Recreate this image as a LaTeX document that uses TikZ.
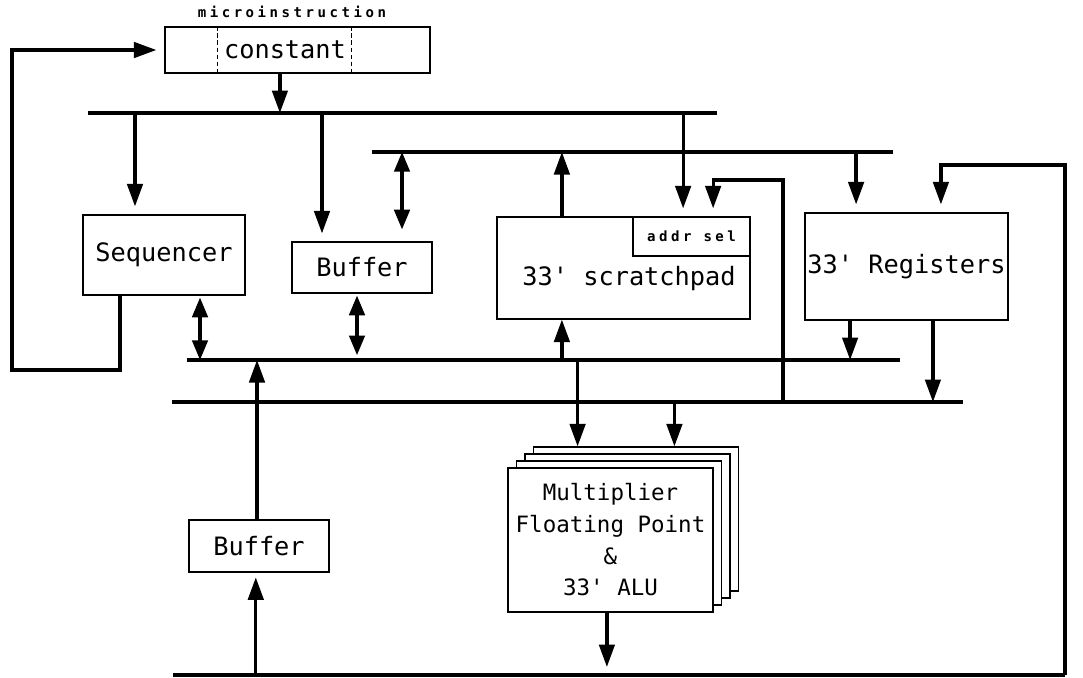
\documentclass[tikz,border=0pt]{standalone}
\usepackage{fontspec}
\setmonofont{DejaVu Sans Mono}
\newfontfamily\tagfont[LetterSpace=25]{DejaVu Sans Mono Bold}
\usetikzlibrary{arrows.meta,positioning}
\begin{document}
\begin{tikzpicture}[x=0.025cm, y=-0.025cm, font=\ttfamily\fontsize{18}{22}\selectfont, box/.style={draw, line width=0.8pt, inner sep=0pt, align=center}, bus/.style={line width=3pt}, arr/.style={line width=2.3pt, -{Triangle[length=16pt,width=11pt]}}, darr/.style={line width=2.3pt, {Triangle[length=14pt,width=11pt]}-{Triangle[length=14pt,width=11pt]}}, gap/.style={shorten >=0.2cm}, tag/.style={font=\tagfont\fontsize{10}{12}\selectfont}]
\useasboundingbox (0,0) rectangle (1083,677);
\node[box, minimum width=6.625cm, minimum height=1.15cm] (micro) at (297.5,50) {};
\node (const) at (285,50) {constant};
\node[tag, above=0.1cm of micro, xshift=-0.14cm] (mlabel) {microinstruction};
\node[box, minimum width=4.05cm, minimum height=2cm] (seq) at (164,255) {Sequencer};
\node[box, minimum width=3.5cm, minimum height=1.275cm] (buf1) at (362,267.5) {Buffer};
\node[box, minimum width=6.325cm, minimum height=2.55cm] (spad) at (623.5,268) {};
\node[box, tag, anchor=north east, minimum width=2.925cm, minimum height=0.975cm] (addr) at (spad.north east) {addr sel};
\node (spadtxt) at (629,279) {33' scratchpad};
\node[box, minimum width=5.075cm, minimum height=2.675cm] (reg) at (906.5,266.5) {33' Registers};
\node[box, minimum width=3.5cm, minimum height=1.3cm] (buf2) at (259,546) {Buffer};
\node[box, fill=white, minimum width=5.125cm, minimum height=3.6cm] (mult3) at (636,519) {};
\node[box, fill=white, minimum width=5.125cm, minimum height=3.6cm] (mult2) at (627.5,526) {};
\node[box, fill=white, minimum width=5.125cm, minimum height=3.6cm] (mult1) at (619,533) {};
\node[box, fill=white, minimum width=5.125cm, minimum height=3.6cm, font=\ttfamily\fontsize{16}{22.5}\selectfont] (mult) at (610.5,540) {Multiplier\\Floating Point\\\&\\33' ALU};
\draw[densely dashed, line width=0.6pt] ([xshift=-1.99cm]micro.north) -- ([xshift=-1.99cm]micro.south); \draw[densely dashed, line width=0.6pt] ([xshift=1.36cm]micro.north) -- ([xshift=1.36cm]micro.south);
\coordinate (b1w) at (88,113); \coordinate (b1e) at (717,113);
\coordinate (b2w) at (372,152); \coordinate (b2e) at (893,152);
\coordinate (b3w) at (187,360); \coordinate (b3e) at (900,360);
\coordinate (b4w) at (172,402); \coordinate (b4e) at (963,402);
\coordinate (b5w) at (173,675); \coordinate (b5e) at (1065,675);
\draw[bus] (b1w) -- (b1e); \draw[bus] (b2w) -- (b2e); \draw[bus] (b3w) -- (b3e); \draw[bus] (b4w) -- (b4e); \draw[bus] (b5w) -- (b5e);
\coordinate (cout) at ([xshift=-0.44cm]micro.south);
\coordinate (seqin) at ([xshift=-0.725cm]seq.north);
\coordinate (seqfb) at ([xshift=-1.1cm]seq.south);
\coordinate (seqio) at ([xshift=0.9cm]seq.south);
\coordinate (buf1in) at ([xshift=-1cm]buf1.north);
\coordinate (buf1up) at ([xshift=1cm]buf1.north);
\coordinate (buf1io) at ([xshift=-0.125cm]buf1.south);
\coordinate (spadup) at ([xshift=-1.54cm]spad.north);
\coordinate (spaddn) at ([xshift=-1.54cm]spad.south);
\coordinate (addrin) at ([xshift=-0.21cm]addr.north);
\coordinate (addrfb) at ([xshift=0.54cm]addr.north);
\coordinate (regin) at ([xshift=-1.26cm]reg.north);
\coordinate (regfb) at ([xshift=0.86cm]reg.north);
\coordinate (regout) at ([xshift=-1.41cm]reg.south);
\coordinate (regout2) at ([xshift=0.66cm]reg.south);
\coordinate (buf2up) at ([xshift=-0.05cm]buf2.north);
\coordinate (buf2in) at ([xshift=-0.08cm]buf2.south);
\coordinate (multin) at ([xshift=-1.46cm]mult3.north);
\coordinate (multin2) at ([xshift=0.96cm]mult3.north);
\coordinate (multout) at ([xshift=-0.09cm]mult.south);
\coordinate (loop) at (12,370); \coordinate (fbA) at (783,180); \coordinate (fbB) at (1065,165);
\draw[arr, gap] (seqfb) |- (loop) |- (micro.west);
\draw[arr] (cout) -- (cout |- b1w); \draw[arr, gap] (seqin |- b1w) -- (seqin); \draw[arr, gap] (buf1in |- b1w) -- (buf1in);
\draw[darr, shorten <=0.3cm] (buf1up) -- (buf1up |- b2w); \draw[arr] (spadup) -- (spadup |- b2w);
\draw[arr, gap] (addrin |- b1w) -- (addrin); \draw[arr, gap] (fbA |- b4w) -- (fbA) -| (addrfb);
\draw[arr, gap] (regin |- b2w) -- (regin); \draw[arr, gap] (fbB |- b5w) -- (fbB) -| (regfb);
\draw[darr, shorten <=0.05cm] (seqio) -- (seqio |- b3w); \draw[darr, shorten <=0.05cm, shorten >=0.12cm] (buf1io) -- (buf1io |- b3w);
\draw[arr] (spaddn |- b3w) -- (spaddn); \draw[arr] (regout) -- (regout |- b3w); \draw[arr] (regout2) -- (regout2 |- b4w);
\draw[arr] (buf2up) -- (buf2up |- b3w); \draw[arr, shorten >=0.12cm] (buf2in |- b5w) -- (buf2in);
\draw[arr] (multin |- b3w) -- (multin); \draw[arr] (multin2 |- b4w) -- (multin2); \draw[arr, gap] (multout) -- (multout |- b5w);
\end{tikzpicture}
\end{document}
